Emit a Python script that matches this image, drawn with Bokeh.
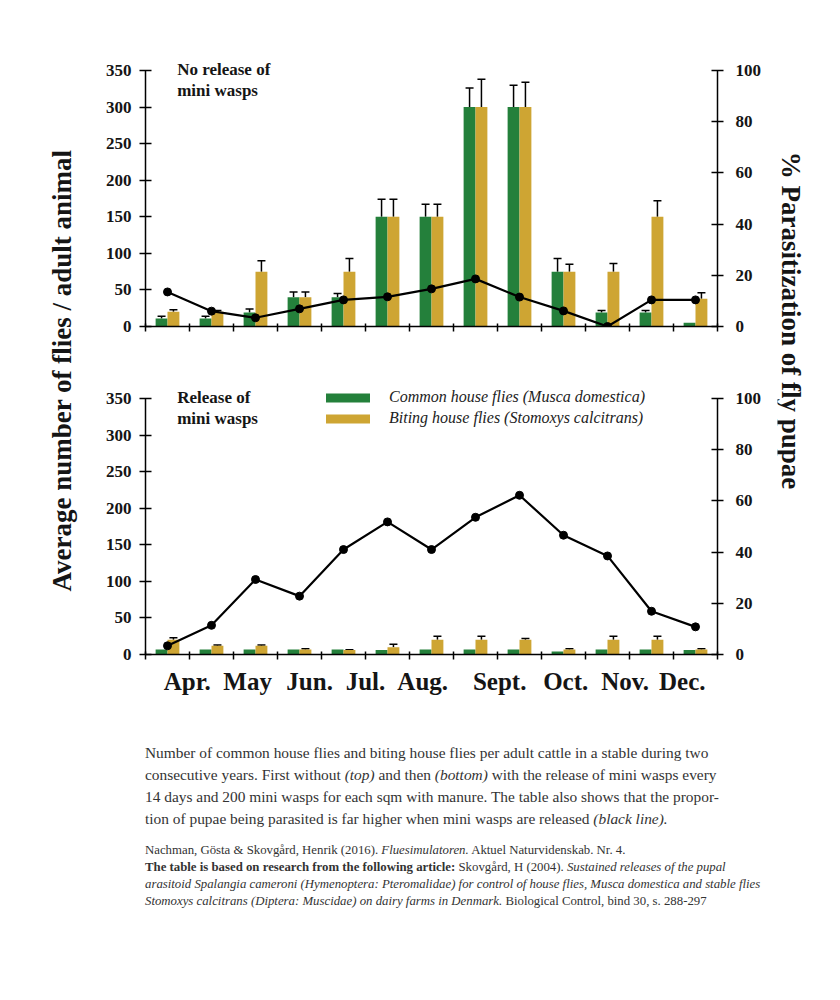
import numpy as np
from bokeh.plotting import figure
from bokeh.models import (Range1d, LinearAxis, FixedTicker, Whisker, TeeHead,
                          ColumnDataSource, Label, Div)
from bokeh.layouts import column, row
from bokeh.embed import file_html
from bokeh.resources import INLINE

# ---------------- data ----------------
months = ["Apr.", "May", "Jun.", "Jul.", "Aug.", "Sept.", "Oct.", "Nov.", "Dec."]
n_samples = 13

nan = float("nan")
# No release of mini wasps (top)
top_common = [11, 11, 19, 40, 40, 150, 150, 300, 300, 75, 19, 19, 5]
top_common_err = [14, 14, 24, 47, 45, 174, 167, 326, 330, 93, 22, 22, nan]
top_biting = [20, 20, 75, 40, 75, 150, 150, 300, 300, 75, 75, 150, 38]
top_biting_err = [23, 22, 90, 47, 93, 174, 167, 338, 334, 85, 86, 172, 46]
top_pct = [13.5, 6.0, 3.4, 6.9, 10.4, 11.6, 14.7, 18.6, 11.5, 6.1, 0.0, 10.4, 10.4]

# Release of mini wasps (bottom)
bot_common = [7, 7, 7, 7, 7, 6, 7, 7, 7, 4, 7, 7, 6]
bot_biting = [20, 12, 12, 7, 6, 10, 20, 20, 20, 7, 20, 20, 7]
bot_biting_err = [23, 13, 13, 8, 6.5, 14, 25, 25, 22, 8, 25, 25, 8]
bot_pct = [3.4, 11.4, 29.3, 22.8, 41.0, 51.8, 41.0, 53.6, 62.2, 46.6, 38.5, 16.9, 10.8]

left_ticks = [0, 50, 100, 150, 200, 250, 300, 350]
right_ticks = [0, 20, 40, 60, 80, 100]

# ---------------- layout / style (not data) ----------------
month_label_pos = [0.95, 2.32, 3.73, 5.0, 6.3, 8.05, 9.55, 10.9, 12.2]
FONT = "Liberation Serif"
GREEN = "#24803b"
YELLOW = "#cea533"
INK = "#151515"
BAR_W = 0.27
OFF = 0.135
Y_MAX = 350
Y_TOP = 371.875          # a little head room above 350 for the panel texts
PCT_TOP = Y_TOP / 3.5    # 100 % sits level with 350

centers = np.arange(n_samples) + 0.5


def style_axis(ax):
    ax.axis_line_color = "black"
    ax.axis_line_width = 1.5
    ax.major_tick_line_color = "black"
    ax.major_tick_line_width = 1.5
    ax.major_tick_in = 6
    ax.major_tick_out = 6
    ax.minor_tick_line_color = None
    ax.major_label_text_font = FONT
    ax.major_label_text_font_style = "bold"
    ax.major_label_text_font_size = "17px"
    ax.major_label_text_color = INK


def panel(common, common_err, biting, biting_err, pct, title, height,
          mb_top, mb_bot, bottom_labels, legend):
    p = figure(width=687, height=height, x_range=Range1d(0, n_samples),
               y_range=Range1d(0, Y_TOP), output_backend="svg",
               toolbar_location=None, min_border_left=55, min_border_right=60,
               min_border_top=mb_top, min_border_bottom=mb_bot)
    p.grid.visible = False
    p.outline_line_color = None
    p.extra_y_ranges = {"pct": Range1d(0, PCT_TOP)}

    gsrc = ColumnDataSource(dict(x=centers - OFF, top=common,
                                 err=common_err if common_err else common))
    ysrc = ColumnDataSource(dict(x=centers + OFF, top=biting, err=biting_err))
    kw_g = dict(legend_label="Common house flies (Musca domestica)") if legend else {}
    kw_y = dict(legend_label="Biting house flies (Stomoxys calcitrans)") if legend else {}
    p.vbar(x="x", top="top", width=BAR_W, source=gsrc, fill_color=GREEN,
           line_color=None, **kw_g)
    p.vbar(x="x", top="top", width=BAR_W, source=ysrc, fill_color=YELLOW,
           line_color=None, **kw_y)

    srcs = [ysrc] if common_err is None else [gsrc, ysrc]
    for s in srcs:
        w = Whisker(source=s, base="x", upper="err", lower="top",
                    line_color="black", line_width=1.5,
                    upper_head=TeeHead(size=8, line_color="black", line_width=1.5),
                    lower_head=None)
        p.add_layout(w)

    lsrc = ColumnDataSource(dict(x=centers, y=pct))
    p.line("x", "y", source=lsrc, y_range_name="pct", line_color="black",
           line_width=2.2)
    p.scatter("x", "y", source=lsrc, y_range_name="pct", marker="circle",
              size=8, fill_color="black", line_color="black")

    la = p.yaxis[0]
    style_axis(la)
    la.ticker = FixedTicker(ticks=left_ticks)
    la.bounds = (0, Y_MAX)
    la.major_label_standoff = 8

    rax = LinearAxis(y_range_name="pct", ticker=FixedTicker(ticks=right_ticks),
                     bounds=(0, 100))
    style_axis(rax)
    rax.major_label_standoff = 12
    p.add_layout(rax, "right")

    xa = p.xaxis[0]
    style_axis(xa)
    xa.major_tick_line_color = None
    xa.major_tick_in = 0
    xa.major_tick_out = 0
    xa.minor_tick_line_color = "black"
    xa.minor_tick_line_width = 1.5
    xa.minor_tick_in = 3
    xa.minor_tick_out = 5
    if bottom_labels:
        xa.ticker = FixedTicker(ticks=month_label_pos,
                                minor_ticks=list(range(n_samples + 1)))
        xa.major_label_overrides = {pos: m for pos, m in zip(month_label_pos, months)}
        xa.major_label_text_font_size = "25px"
        xa.major_label_standoff = 8
    else:
        xa.ticker = FixedTicker(ticks=[], minor_ticks=list(range(n_samples + 1)))

    p.add_layout(Label(x=0.72, y=Y_MAX, y_offset=11, text=title,
                       text_font=FONT, text_font_style="bold",
                       text_font_size="17px", text_color=INK,
                       text_baseline="top", text_line_height=1.15))

    if legend:
        lg = p.legend[0]
        lg.location = (175, 226)
        lg.padding = 0
        lg.margin = 0
        lg.spacing = 1
        lg.glyph_width = 55
        lg.glyph_height = 11
        lg.label_height = 20
        lg.label_standoff = 14
        lg.label_text_font = FONT
        lg.label_text_font_style = "italic"
        lg.label_text_font_size = "16px"
        lg.label_text_color = "#222222"
        lg.border_line_color = None
        lg.background_fill_alpha = 0
    return p


top = panel(top_common, top_common_err, top_biting, top_biting_err, top_pct,
            "No release of\nmini wasps", 348, 54, 22, False, False)
bot = panel(bot_common, None, bot_biting, bot_biting_err, bot_pct,
            "Release of\nmini wasps", 356, 34, 50, True, True)

H_ALL = 704


def label_fig(width, text, x, y, angle):
    f = figure(width=width, height=H_ALL, x_range=Range1d(0, width),
               y_range=Range1d(0, H_ALL), output_backend="svg",
               toolbar_location=None, min_border=0,
               x_axis_location=None, y_axis_location=None)
    f.grid.visible = False
    f.outline_line_color = None
    f.add_layout(Label(x=x, y=y, text=text, angle=angle, text_align="center",
                       text_baseline="middle", text_font=FONT,
                       text_font_style="bold", text_font_size="27px",
                       text_color=INK))
    return f


left_lab = label_fig(90, "Average number of flies / adult animal", 61, 334, np.pi / 2)
right_lab = label_fig(55, "% Parasitization of fly pupae", 13, 384, -np.pi / 2)

caption = Div(
    text=("Number of common house flies and biting house flies per adult cattle in a stable during two<br>"
          "consecutive years. First without <i>(top)</i> and then <i>(bottom)</i> with the release of mini wasps every<br>"
          "14 days and 200 mini wasps for each sqm with manure. The table also shows that the propor-<br>"
          "tion of pupae being parasited is far higher when mini wasps are released <i>(black line).</i>"),
    width=690, margin=(38, 0, 0, 145),
    styles={"font-family": FONT, "font-size": "15.4px", "line-height": "22px",
            "color": "#333333", "white-space": "nowrap"})

refs = Div(
    text=("Nachman, Gösta &amp; Skovgård, Henrik (2016). <i>Fluesimulatoren.</i> Aktuel Naturvidenskab. Nr. 4.<br>"
          "<b>The table is based on research from the following article:</b> Skovgård, H (2004). <i>Sustained releases of the pupal</i><br>"
          "<i>arasitoid Spalangia cameroni (Hymenoptera: Pteromalidae) for control of house flies, Musca domestica and stable flies</i><br>"
          "<i>Stomoxys calcitrans (Diptera: Muscidae) on dairy farms in Denmark.</i> Biological Control, bind 30, s. 288-297"),
    width=690, margin=(12, 0, 0, 145),
    styles={"font-family": FONT, "font-size": "12.8px", "line-height": "17px",
            "color": "#333333", "white-space": "nowrap"})

layout = column(row(left_lab, column(top, bot), right_lab), caption, refs)

open("out.html", "w").write(file_html(layout, INLINE))
